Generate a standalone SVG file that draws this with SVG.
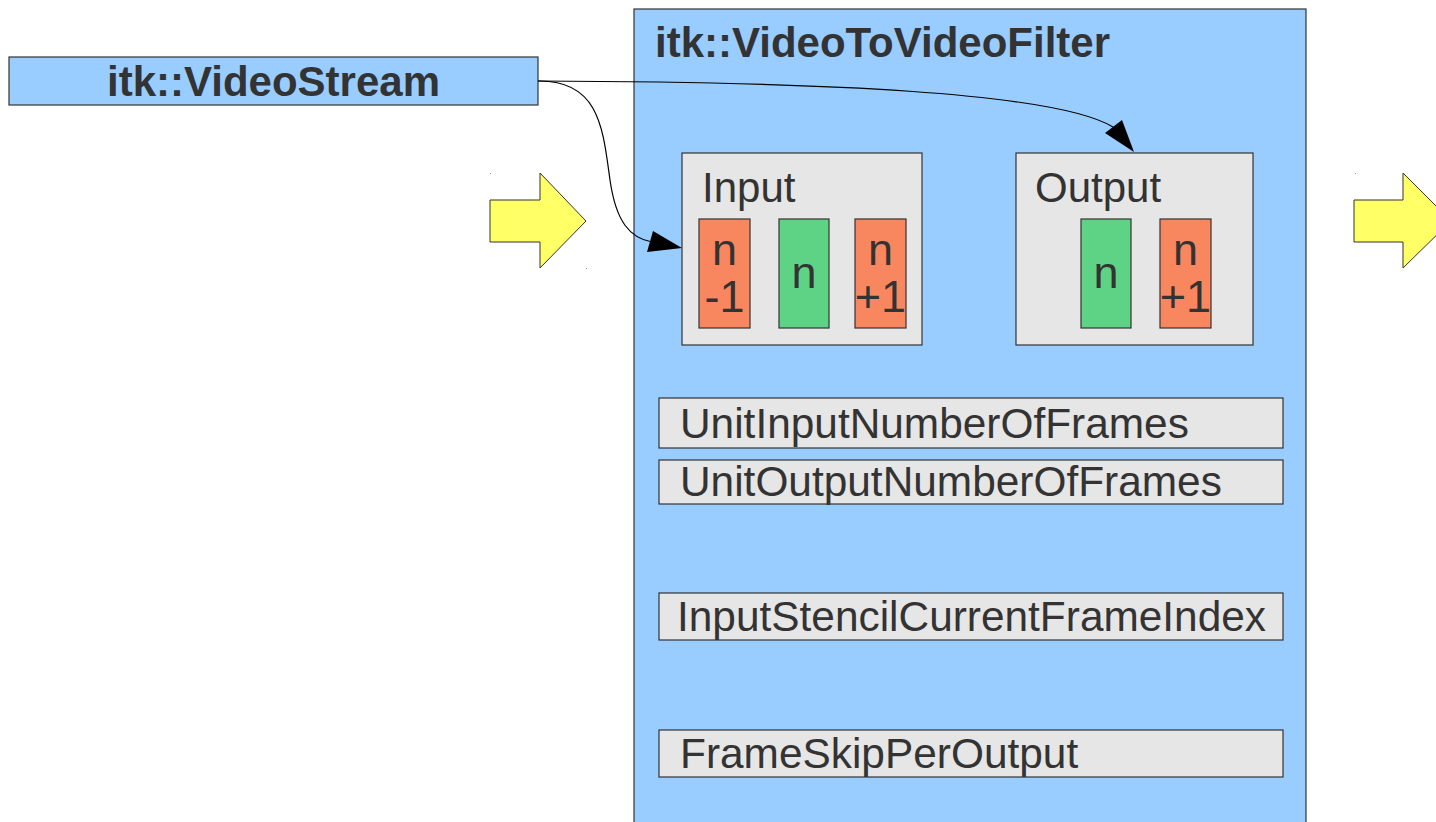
<svg xmlns="http://www.w3.org/2000/svg" width="1436" height="822" viewBox="0 0 1436 822">
  <style>
    .lbl { font-family: "Liberation Sans", Arial, sans-serif; fill: #333333; }
    .bold { font-weight: bold; }
    .frame { font-size: 45px; text-anchor: middle; }
    .box { stroke: #333333; stroke-width: 1.2; }
    .blue { fill: #99ccff; }
    .grey { fill: #e6e6e6; }
    .red { fill: #f88760; }
    .green { fill: #5fd385; }
    .yellow { fill: #ffff66; stroke: #333333; stroke-width: 1; }
    .conn { fill: none; stroke: #000000; stroke-width: 1.2; }
    .head { fill: #000000; }
    .dot { fill: #999999; }
  </style>
  <rect width="1436" height="822" fill="#ffffff"/>

  <!-- pipeline arrows -->
  <g id="arrow-in">
    <polygon class="yellow" points="490,200 540,200 540,173 586,221 540,268 540,242 490,242"/>
    <rect class="dot" x="490" y="173" width="1" height="1"/>
    <rect class="dot" x="586" y="268" width="1" height="1"/>
  </g>
  <g id="arrow-out">
    <polygon class="yellow" points="1354,200 1403,200 1403,173 1451,221 1403,268 1403,242 1354,242"/>
    <rect class="dot" x="1355" y="173" width="1" height="1"/>
  </g>

  <!-- source stream -->
  <g id="video-stream">
    <rect class="box blue" x="9" y="57" width="529" height="48"/>
    <text class="lbl bold" x="273.5" y="96" font-size="42" text-anchor="middle">itk::VideoStream</text>
  </g>

  <!-- filter -->
  <g id="filter">
    <rect class="box blue" x="634" y="9" width="672" height="830"/>
    <text class="lbl bold" x="655" y="57" font-size="42">itk::VideoToVideoFilter</text>
  </g>

  <g id="input">
    <rect class="box grey" x="682" y="153" width="240" height="192"/>
    <text class="lbl" x="702" y="202" font-size="42">Input</text>
    <rect class="box red" x="699" y="219" width="51" height="109"/>
    <text class="lbl frame" x="724.5" y="265">n</text>
    <text class="lbl frame" x="724.5" y="312">-1</text>
    <rect class="box green" x="779" y="219" width="50" height="109"/>
    <text class="lbl frame" x="804" y="288">n</text>
    <rect class="box red" x="855" y="219" width="51" height="109"/>
    <text class="lbl frame" x="880.5" y="265">n</text>
    <text class="lbl frame" x="880.5" y="312">+1</text>
  </g>

  <g id="output">
    <rect class="box grey" x="1016" y="153" width="237" height="192"/>
    <text class="lbl" x="1035" y="202" font-size="42">Output</text>
    <rect class="box green" x="1081" y="219" width="50" height="109"/>
    <text class="lbl frame" x="1106" y="288">n</text>
    <rect class="box red" x="1160" y="219" width="51" height="109"/>
    <text class="lbl frame" x="1185.5" y="265">n</text>
    <text class="lbl frame" x="1185.5" y="312">+1</text>
  </g>

  <g id="unit-input-frames">
    <rect class="box grey" x="659" y="398" width="624" height="50"/>
    <text class="lbl" x="680" y="438" font-size="42.4">UnitInputNumberOfFrames</text>
  </g>
  <g id="unit-output-frames">
    <rect class="box grey" x="659" y="460" width="624" height="44"/>
    <text class="lbl" x="680" y="496" font-size="42.4">UnitOutputNumberOfFrames</text>
  </g>
  <g id="stencil-index">
    <rect class="box grey" x="659" y="593" width="624" height="47"/>
    <text class="lbl" x="677" y="631" font-size="42.4">InputStencilCurrentFrameIndex</text>
  </g>
  <g id="frame-skip">
    <rect class="box grey" x="659" y="730" width="624" height="47"/>
    <text class="lbl" x="680" y="768" font-size="42.4">FrameSkipPerOutput</text>
  </g>

  <!-- connectors -->
  <g id="connectors">
    <path class="conn" d="M538,81 C600,80 603,130 610,180 C616,222 630,238 652,242"/>
    <polygon class="head" points="682,248 647,252 653,231"/>
    <path class="conn" d="M538,81 C820,82 1055,92 1113,127"/>
    <polygon class="head" points="1134,152 1105,133 1122,120"/>
  </g>
</svg>
